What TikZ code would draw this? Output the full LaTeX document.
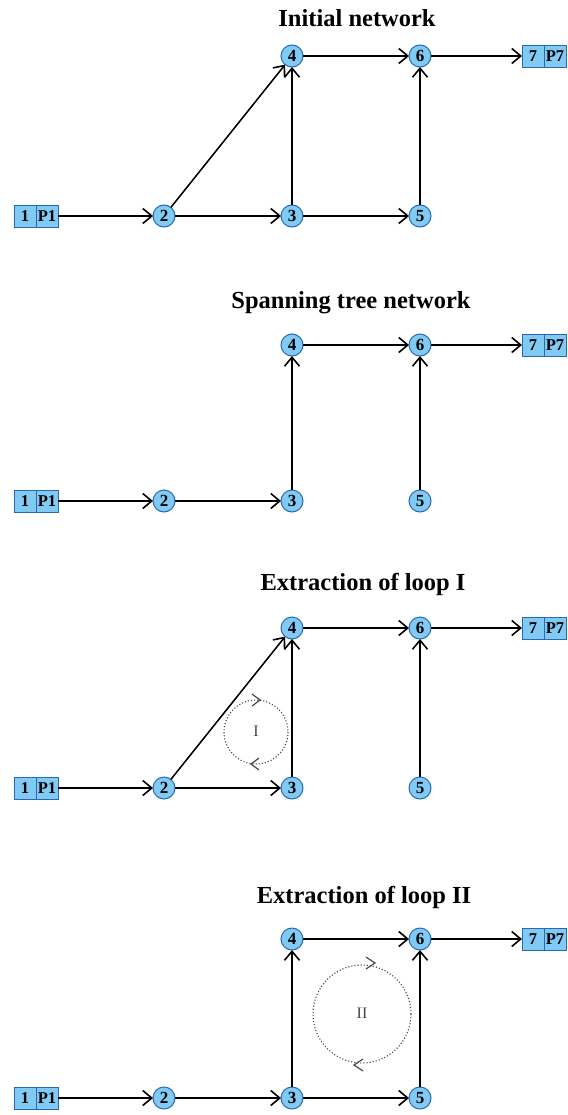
\documentclass[tikz,border=0pt]{standalone}
\usepackage{fontspec}
\setmainfont{Liberation Serif}
\usetikzlibrary{arrows.meta}
\definecolor{nodefill}{RGB}{128,202,244}
\definecolor{nodeline}{RGB}{40,105,180}
\definecolor{loopgray}{RGB}{70,70,70}
\tikzset{
  vtx/.style={circle, draw=nodeline, line width=1pt, fill=nodefill, minimum size=22pt, inner sep=0pt, outer sep=0pt, font=\fontsize{17}{17}\selectfont\bfseries},
  cellbox/.style={rectangle, draw=nodeline, line width=0.8pt, fill=nodefill, minimum width=22pt, minimum height=22pt, inner sep=0pt, outer sep=0pt, font=\fontsize{16.5}{17}\selectfont\bfseries},
  conn/.style={draw, line width=1.5pt, -{Straight Barb[length=9pt,width=15pt,line width=1.6pt]}},
  ttl/.style={anchor=base, inner sep=0pt, font=\fontsize{24.5}{25}\selectfont\bfseries},
  loopc/.style={draw=loopgray, line width=1.1pt, dotted},
  chev/.style={draw=loopgray, line width=1.2pt},
  looplbl/.style={font=\fontsize{16}{16}\selectfont, text=loopgray}
}
\newcommand{\mkpanel}[3]{%
  \node[cellbox] (#1c1) at (25,#3) {1};
  \node[cellbox, anchor=west] (#1p1) at (#1c1.east) {P1};
  \node[vtx] (#1n2) at (164,#3) {2};
  \node[vtx] (#1n3) at (292,#3) {3};
  \node[vtx] (#1n5) at (420,#3) {5};
  \node[vtx] (#1n4) at (292,#2) {4};
  \node[vtx] (#1n6) at (420,#2) {6};
  \node[cellbox] (#1c7) at (533,#2) {7};
  \node[cellbox, anchor=west] (#1p7) at (#1c7.east) {P7};
}
\begin{document}
\begin{tikzpicture}[x=1pt,y=-1pt]
\useasboundingbox (0,0) rectangle (567,1115);
\fill[white] (0,0) rectangle (567,1115);

% Panel 1
\node[ttl] (t1) at (357,27) {Initial network};
\mkpanel{a}{56}{216}
\draw[conn] (ap1) -- (an2);
\draw[conn] (an2) -- (an3);
\draw[conn] (an3) -- (an5);
\draw[conn] (an2) -- (an4);
\draw[conn] (an3) -- (an4);
\draw[conn] (an5) -- (an6);
\draw[conn] (an4) -- (an6);
\draw[conn] (an6) -- (ac7);

% Panel 2
\node[ttl] (t2) at (351,308) {Spanning tree network};
\mkpanel{b}{345}{501}
\draw[conn] (bp1) -- (bn2);
\draw[conn] (bn2) -- (bn3);
\draw[conn] (bn3) -- (bn4);
\draw[conn] (bn5) -- (bn6);
\draw[conn] (bn4) -- (bn6);
\draw[conn] (bn6) -- (bc7);

% Panel 3
\node[ttl] (t3) at (363,590) {Extraction of loop I};
\mkpanel{c}{628}{788}
\draw[conn] (cp1) -- (cn2);
\draw[conn] (cn2) -- (cn3);
\draw[conn] (cn2) -- (cn4);
\draw[conn] (cn3) -- (cn4);
\draw[conn] (cn5) -- (cn6);
\draw[conn] (cn4) -- (cn6);
\draw[conn] (cn6) -- (cc7);
\draw[loopc] (256,732) circle[radius=32];
\node[looplbl] (l1) at (256,731) {I};
\draw[chev] (252,694) -- (260,700) -- (252,706);
\draw[chev] (259,758) -- (251,764) -- (259,770);

% Panel 4
\node[ttl] (t4) at (364,903) {Extraction of loop II};
\mkpanel{d}{939}{1098}
\draw[conn] (dp1) -- (dn2);
\draw[conn] (dn2) -- (dn3);
\draw[conn] (dn3) -- (dn5);
\draw[conn] (dn3) -- (dn4);
\draw[conn] (dn5) -- (dn6);
\draw[conn] (dn4) -- (dn6);
\draw[conn] (dn6) -- (dc7);
\draw[loopc] (362,1014) circle[radius=49];
\node[looplbl] (l2) at (362,1013) {II};
\draw[chev] (366,957) -- (375,963) -- (366,969);
\draw[chev] (363,1059) -- (354,1065) -- (363,1071);
\end{tikzpicture}
\end{document}
